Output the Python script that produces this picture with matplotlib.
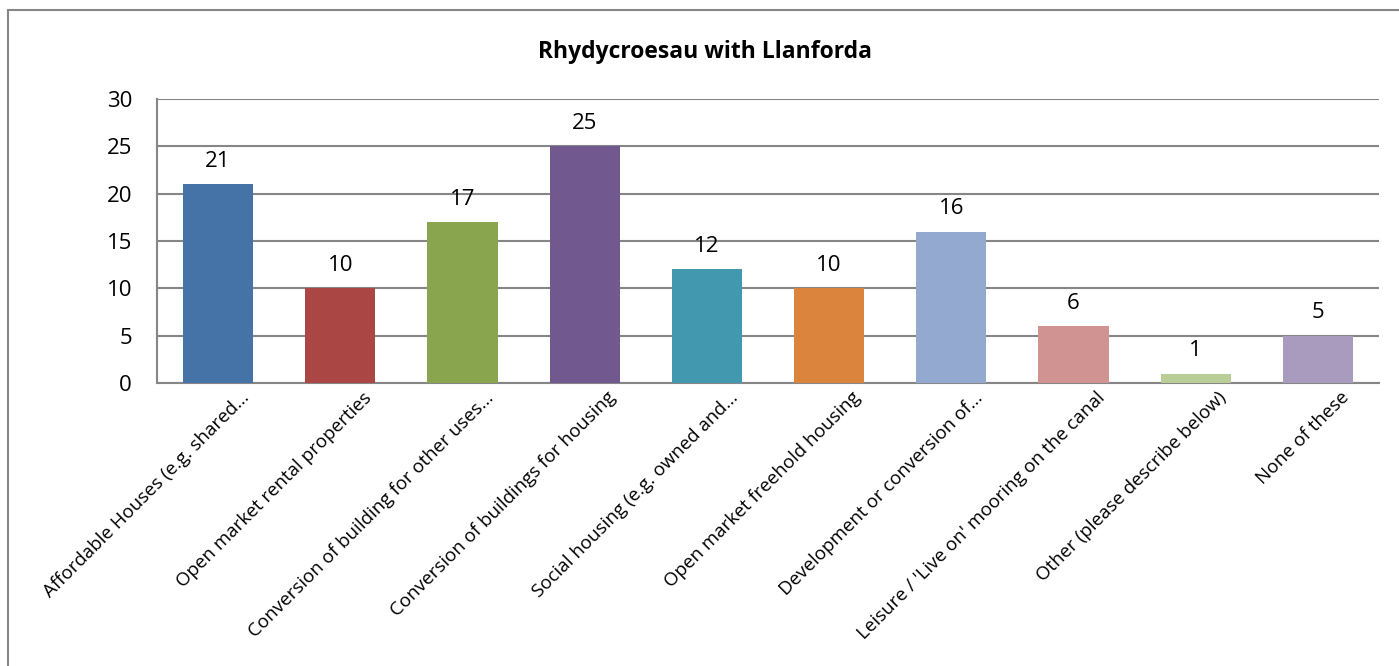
import matplotlib
matplotlib.use("Agg")
import matplotlib.pyplot as plt
from matplotlib.patches import Rectangle

plt.rcParams['font.family'] = ['Open Sans', 'DejaVu Sans']

categorias = [
    "Affordable Houses (e.g. shared...",
    "Open market rental properties",
    "Conversion of building for other uses...",
    "Conversion of buildings for housing",
    "Social housing (e.g. owned and...",
    "Open market freehold housing",
    "Development or conversion of...",
    "Leisure / 'Live on' mooring on the canal",
    "Other (please describe below)",
    "None of these",
]
valores = [21, 10, 17, 25, 12, 10, 16, 6, 1, 5]
colores = ['#4572A7', '#AA4643', '#89A54E', '#71588F', '#4198AF',
           '#DB843D', '#93A9CF', '#D19392', '#B9CD96', '#A99BBD']
titulo = "Rhydycroesau with Llanforda"

W, H = 1399, 666
fig = plt.figure(figsize=(W / 100, H / 100), dpi=100)
ax = fig.add_axes([157 / W, 1 - 383 / H, (1379 - 157) / W, (383 - 99) / H])

x = list(range(len(valores)))
barras = ax.bar(x, valores, width=0.575, color=colores, zorder=3)

# etiquetas de datos
for xi, v in zip(x, valores):
    ax.annotate(str(v), (xi, v), xytext=(0, 9), textcoords='offset points',
                ha='center', va='bottom', fontsize=16)

ax.set_xlim(-0.5, len(valores) - 0.5)
ax.set_ylim(0, 30)
ax.set_yticks(range(0, 31, 5))
ax.yaxis.grid(True, color='#868686', linewidth=1.5, zorder=0)
ax.tick_params(axis='y', length=0, pad=18, labelsize=16)
ax.tick_params(axis='x', length=0, pad=4)
ax.set_xticks(x)
ax.set_xticklabels(categorias, rotation=45, ha='right', va='top',
                   rotation_mode='anchor', fontsize=13.5)
for lab in ax.get_xticklabels():
    lab.set_transform(lab.get_transform() +
                      matplotlib.transforms.ScaledTranslation(22 / 100, 0, fig.dpi_scale_trans))

for s in ['top', 'right']:
    ax.spines[s].set_visible(False)
for s in ['left', 'bottom']:
    ax.spines[s].set_color('#868686')
    ax.spines[s].set_linewidth(1.5)

fig.text(705 / W, 1 - 52 / H, titulo, ha='center', va='center',
         fontsize=16.5, fontweight='bold')

# borde del gráfico
fig.patches.append(Rectangle((8 / W, -0.05), 1.1, 1 - 10 / H + 0.05,
                             transform=fig.transFigure, fill=False,
                             edgecolor='#868686', linewidth=1.5))

fig.savefig("out.png", dpi=100)
